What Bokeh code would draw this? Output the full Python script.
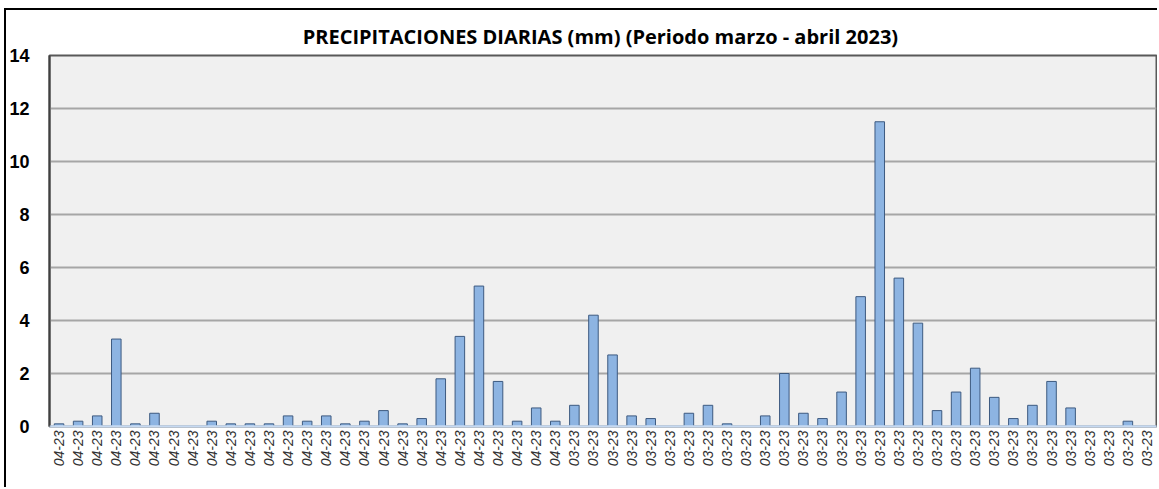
from bokeh.plotting import figure
from bokeh.models import Range1d, FixedTicker, Span
from bokeh.embed import file_html
from bokeh.resources import INLINE
import math

# ---- data ----
labels = ["04-23"] * 27 + ["03-23"] * 31
values_abr = [0.1, 0.2, 0.4, 3.3, 0.1, 0.5, 0, 0, 0.2, 0.1, 0.1, 0.1, 0.4, 0.2,
              0.4, 0.1, 0.2, 0.6, 0.1, 0.3, 1.8, 3.4, 5.3, 1.7, 0.2, 0.7, 0.2]
values_mar = [0.8, 4.2, 2.7, 0.4, 0.3, 0, 0.5, 0.8, 0.1, 0, 0.4, 2.0, 0.5, 0.3,
              1.3, 4.9, 11.5, 5.6, 3.9, 0.6, 1.3, 2.2, 1.1, 0.3, 0.8, 1.7, 0.7,
              0, 0, 0.2, 0]
values = values_abr + values_mar
y_ticks = [0, 2, 4, 6, 8, 10, 12, 14]
title_text = "PRECIPITACIONES DIARIAS (mm)  (Periodo marzo - abril 2023)"

idx = list(range(len(values)))
n = len(values)

p = figure(width=1153, height=479, output_backend="svg", toolbar_location=None,
           x_range=Range1d(-0.5, n - 0.5), y_range=Range1d(0, 14),
           title=title_text,
           min_border_left=42, min_border_top=45, min_border_right=3,
           min_border_bottom=63)
p.styles = {"border-left": "2px solid black", "border-top": "2px solid black",
            "margin-left": "4px", "margin-top": "8px"}

p.background_fill_color = "#f0f0f0"
p.border_fill_color = "white"
p.outline_line_color = "#595959"
p.outline_line_width = 2

p.title.text_font = "Open Sans"
p.title.text_font_style = "bold"
p.title.text_font_size = "20px"
p.title.align = "center"
p.title.text_color = "#000000"
p.title.standoff = 12

p.vbar(x=idx, top=values, width=0.5, bottom=0,
       fill_color="#8db4e2", line_color="#3d5a80", line_width=1)

# axes
p.yaxis.ticker = FixedTicker(ticks=y_ticks)
p.yaxis.major_label_text_font = "Liberation Sans"
p.yaxis.major_label_text_font_style = "bold"
p.yaxis.major_label_text_font_size = "18px"
p.yaxis.major_label_text_color = "#000000"
p.yaxis.major_tick_out = 0
p.yaxis.major_tick_in = 0
p.yaxis.minor_tick_out = 0
p.yaxis.minor_tick_in = 0
p.yaxis.major_label_standoff = 20
p.yaxis.axis_line_color = "#404040"
p.yaxis.axis_line_width = 2

p.xaxis.ticker = FixedTicker(ticks=idx)
p.xaxis.major_label_overrides = {i: lab for i, lab in enumerate(labels)}
p.xaxis.major_label_orientation = math.pi / 2
p.xaxis.major_label_text_font = "Liberation Sans"
p.xaxis.major_label_text_font_style = "italic"
p.xaxis.major_label_text_font_size = "14px"
p.xaxis.major_label_text_color = "#333333"
p.xaxis.major_tick_out = 0
p.xaxis.major_tick_in = 0
p.xaxis.minor_tick_out = 0
p.xaxis.minor_tick_in = 0
p.xaxis.major_label_standoff = 4
p.xaxis.axis_line_color = "#c6d9f1"
p.xaxis.axis_line_width = 2

p.xgrid.grid_line_color = None
p.ygrid.ticker = FixedTicker(ticks=y_ticks)
p.ygrid.grid_line_color = "#a6a6a6"
p.ygrid.grid_line_width = 2
p.ygrid.level = "image"

p.add_layout(Span(location=0, dimension="width", line_color="#c6d9f1", line_width=2))

open("out.html", "w").write(file_html(p, INLINE))
